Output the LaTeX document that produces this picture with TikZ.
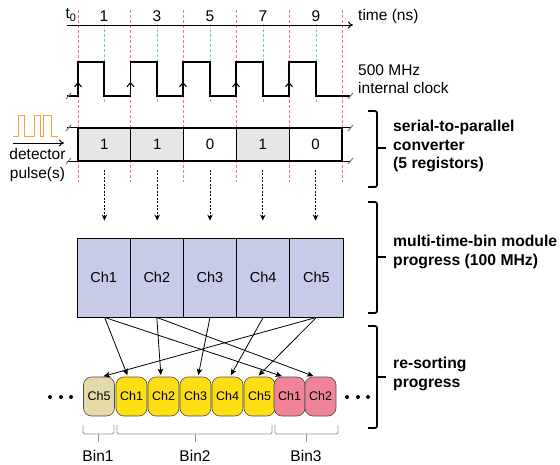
\documentclass[tikz,border=0pt]{standalone}
\usepackage{fontspec}
\setmainfont{Liberation Sans}
\usetikzlibrary{arrows.meta,calc}
\definecolor{reddash}{RGB}{240,115,115}
\definecolor{greendash}{RGB}{120,205,160}
\definecolor{regfill}{RGB}{230,230,232}
\definecolor{chfill}{RGB}{199,203,232}
\definecolor{tanfill}{RGB}{228,218,170}
\definecolor{yelfill}{RGB}{255,222,20}
\definecolor{pinkfill}{RGB}{241,131,150}
\definecolor{pulseor}{RGB}{245,160,60}
\definecolor{slashgray}{RGB}{120,120,120}
\definecolor{bingray}{RGB}{150,150,150}
\begin{document}
\begin{tikzpicture}[x=1pt,y=-1pt,
  lbl/.style={font=\fontsize{15.5}{18.5}\selectfont, inner sep=0pt},
  blbl/.style={font=\fontsize{15.7}{18.5}\selectfont\bfseries, inner sep=0pt, anchor=west, align=left},
  regbox/.style={draw=black, line width=1.1pt, minimum width=52.8pt, minimum height=33pt, inner sep=0pt, font=\fontsize{15}{18}\selectfont},
  chbox/.style={draw=black, line width=0.8pt, fill=chfill, minimum width=53.2pt, minimum height=79pt, inner sep=0pt, font=\fontsize{14.5}{17}\selectfont},
  binbox/.style={draw=black!70, line width=0.6pt, rounded corners=8pt, minimum width=31pt, minimum height=39pt, inner sep=0pt, font=\fontsize{12.5}{14}\selectfont},
  reddl/.style={reddash, dash pattern=on 3pt off 2pt, line width=0.7pt},
  greendl/.style={greendash, dash pattern=on 3pt off 2pt, line width=0.7pt},
  slashmark/.style={slashgray, line width=1pt},
  dasharrow/.style={dash pattern=on 2pt off 1.5pt, line width=1pt, -{Stealth[length=6pt,width=5.5pt]}},
  sortarrow/.style={line width=0.8pt, -{Stealth[length=6.5pt,width=5.5pt,inset=1.5pt]}, shorten >=1.5pt},
  bigbrace/.style={line width=1.7pt, rounded corners=2pt},
  binbrace/.style={bingray, line width=0.9pt, rounded corners=1.5pt},
  dotnode/.style={circle, fill=black, inner sep=0pt, minimum size=4pt}
]
\useasboundingbox (0,0) rectangle (560,464);

% guide lines
\foreach \x in {78,130.5,183,236,289,342} \draw[reddl] (\x,10) -- (\x,182);
\foreach \x in {104,157,210,263,316} \draw[greendl] (\x,24) -- (\x,102);

% time axis
\coordinate (ax0) at (67,25);
\coordinate (ax1) at (353,25);
\draw[line width=1pt, -{To[length=5pt,width=7pt]}] (ax0) -- (ax1);
\node[lbl] (t0) at (71,15) {t\textsubscript{0}};
\node[lbl] (n1) at (104,16) {1};
\node[lbl] (n3) at (157,16) {3};
\node[lbl] (n5) at (210,16) {5};
\node[lbl] (n7) at (263,16) {7};
\node[lbl] (n9) at (316,16) {9};
\node[lbl, anchor=west] (tlab) at (358,16) {time (ns)};

% clock
\draw[line width=1.1pt] (67,96) -- (78,96) -- (78,62) -- (104,62) -- (104,96) -- (130.5,96) -- (130.5,62) -- (157,62) -- (157,96)
  -- (183,96) -- (183,62) -- (210,62) -- (210,96) -- (236,96) -- (236,62) -- (263,62) -- (263,96) -- (289,96) -- (289,62)
  -- (316,62) -- (316,96) -- (350,96);
\foreach \x in {78,130.5,183,236,289}
  \draw[line width=1.1pt, -{Straight Barb[length=4pt,width=7pt]}] (\x,96) -- (\x,82);
\draw[slashmark] (66,99) -- (71,93);
\draw[slashmark] (348,99) -- (353,93);
\node[lbl, anchor=west, align=left] (clk) at (358,79) {500 MHz\\internal clock};

% registers
\node[regbox, fill=regfill] (r1) at (104.4,144.5) {1};
\node[regbox, fill=regfill] (r2) at (157.2,144.5) {1};
\node[regbox, fill=white] (r3) at (210,144.5) {0};
\node[regbox, fill=regfill] (r4) at (262.8,144.5) {1};
\node[regbox, fill=white] (r5) at (315.6,144.5) {0};
\draw[line width=1.1pt] (r1.north west) -- ++(-10,0);
\draw[line width=1.1pt] (r1.south west) -- ++(-10,0);
\draw[line width=1.1pt] (r5.north east) -- ++(8,0);
\draw[line width=1.1pt] (r5.south east) -- ++(8,0);
\draw[slashmark] (66,131) -- (71,125);
\draw[slashmark] (66,164) -- (71,158);
\draw[slashmark] (348,131) -- (353,125);
\draw[slashmark] (348,164) -- (353,158);

% detector pulse
\draw[pulseor, line width=1pt] (13,136) -- (18,136) -- (18,115) -- (24,115) -- (24,136) -- (34,136) -- (34,115) -- (40,115)
  -- (40,136) -- (43,136) -- (43,115) -- (51,115) -- (51,136) -- (58,136);
\coordinate (din) at (13,143);
\coordinate (dout) at (64,143);
\draw[line width=1pt, -{To[length=5pt,width=7pt]}] (din) -- (dout);
\node[lbl, align=center] (det) at (37.5,165) {detector\\pulse(s)};

% channels
\node[chbox] (c1) at (103.6,277.5) {Ch1};
\node[chbox] (c2) at (156.8,277.5) {Ch2};
\node[chbox] (c3) at (210,277.5) {Ch3};
\node[chbox] (c4) at (263.2,277.5) {Ch4};
\node[chbox] (c5) at (316.4,277.5) {Ch5};

% dashed arrows
\foreach \i in {1,...,5}
  \draw[dasharrow, shorten <=8pt, shorten >=17pt] (r\i.south) -- (r\i.south |- c\i.north);

% bins
\node[binbox, fill=tanfill] (b1) at (99,396.5) {Ch5};
\node[binbox, fill=yelfill] (b2) at (131.5,396.5) {Ch1};
\node[binbox, fill=yelfill] (b3) at (163.5,396.5) {Ch2};
\node[binbox, fill=yelfill] (b4) at (195.5,396.5) {Ch3};
\node[binbox, fill=yelfill] (b5) at (227.5,396.5) {Ch4};
\node[binbox, fill=yelfill] (b6) at (259.5,396.5) {Ch5};
\node[binbox, fill=pinkfill] (b7) at (289.5,396.5) {Ch1};
\node[binbox, fill=pinkfill] (b8) at (320.5,396.5) {Ch2};

% sorting arrows
\draw[sortarrow] ([xshift=1pt]c1.south) -- ([xshift=-3.5pt]b2.north);
\draw[sortarrow] ([xshift=1pt]c1.south) -- ([xshift=-6pt]b7.north);
\draw[sortarrow] (c2.south) -- ([xshift=-2.5pt]b3.north);
\draw[sortarrow] (c2.south) -- ([xshift=-5.5pt]b8.north);
\draw[sortarrow] (c3.south) -- ([xshift=2.5pt]b4.north);
\draw[sortarrow] (c4.south) -- ([xshift=2.5pt]b5.north);
\draw[sortarrow] (c5.south) -- ([xshift=-2pt]b6.north);
\draw[sortarrow] (c5.south) -- ([xshift=3pt]b1.north);

% dots
\node[dotnode] (dl1) at (50,397) {};
\node[dotnode] (dl2) at (61,397) {};
\node[dotnode] (dl3) at (71,397) {};
\node[dotnode] (dr1) at (347,397) {};
\node[dotnode] (dr2) at (358,397) {};
\node[dotnode] (dr3) at (368,397) {};

% bin brackets
\draw[binbrace] (83,425) -- (83,434) -- (114,434) -- (114,425);
\draw[binbrace] (98.5,434) -- (98.5,442);
\draw[binbrace] (117,425) -- (117,434) -- (272,434) -- (272,425);
\draw[binbrace] (195,434) -- (195,442);
\draw[binbrace] (275,425) -- (275,434) -- (338,434) -- (338,425);
\draw[binbrace] (306.5,434) -- (306.5,442);
\node[lbl, anchor=base] (bin1) at (98,461) {Bin1};
\node[lbl, anchor=base] (bin2) at (195,461) {Bin2};
\node[lbl, anchor=base] (bin3) at (306,461) {Bin3};

% big braces
\draw[bigbrace] (368,111) -- (377,111) -- (377,187) -- (368,187);
\draw[line width=1.7pt] (377,148) -- (386,148);
\node[blbl] (lab1) at (393,146) {serial-to-parallel\\converter\\(5 registors)};

\draw[bigbrace] (368,202) -- (377,202) -- (377,313) -- (368,313);
\draw[line width=1.7pt] (377,257) -- (386,257);
\node[blbl] (lab2) at (393,252) {multi-time-bin module\\progress (100 MHz)};

\draw[bigbrace] (368,326) -- (377,326) -- (377,428) -- (368,428);
\draw[line width=1.7pt] (377,377) -- (386,377);
\node[blbl] (lab3) at (393,374) {re-sorting\\progress};
\end{tikzpicture}
\end{document}
